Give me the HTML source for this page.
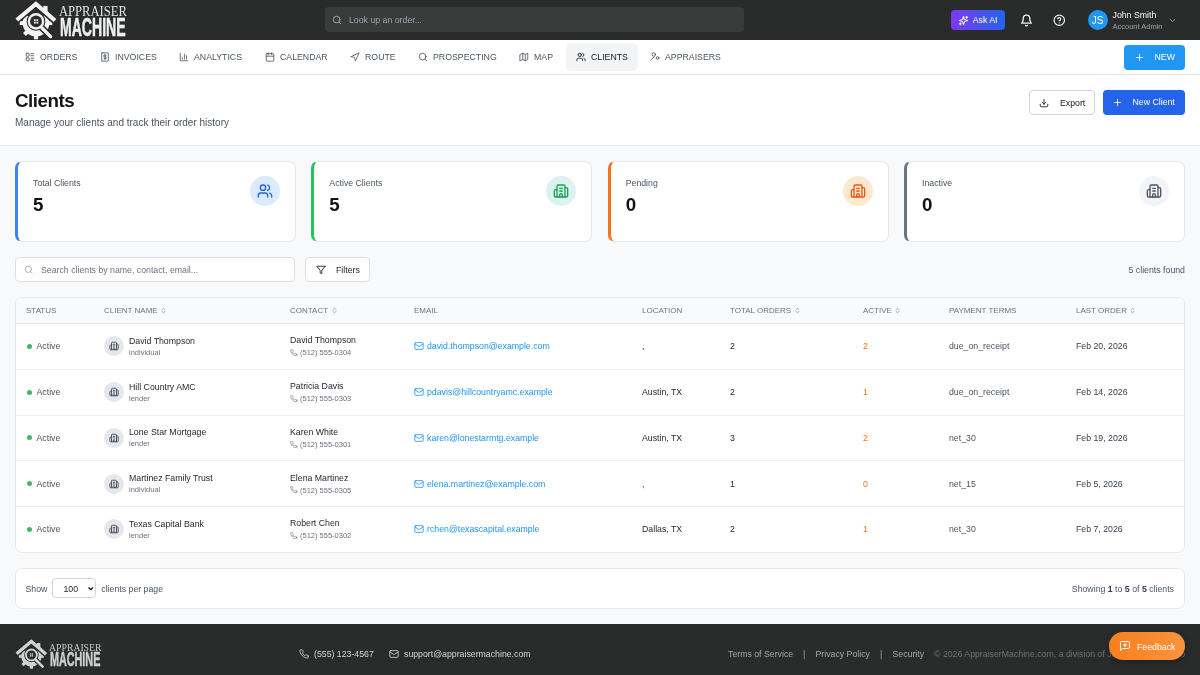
<!DOCTYPE html>
<html><head><meta charset="utf-8">
<style>
*{box-sizing:border-box;margin:0;padding:0}
html,body{width:1200px;height:675px;overflow:hidden;}body{will-change:transform;background:#f8f9fb;font-family:"Liberation Sans",sans-serif;color:#111827}
.abs{position:absolute}
svg.i{fill:none;stroke:currentColor;stroke-width:2;stroke-linecap:round;stroke-linejoin:round;display:block}
#top{position:absolute;left:0;top:0;width:1200px;height:40px;background:#2a2b2b}
#nav{position:absolute;left:0;top:40px;width:1200px;height:35px;background:#fff;border-bottom:1px solid #e5e7eb}
.nv{position:absolute;top:-0.5px;height:35px;display:flex;align-items:center;font-size:8.75px;color:#4b5563;white-space:nowrap}
.nv svg{width:10px;height:10px;margin-right:5px}
#hdr{position:absolute;left:0;top:75px;width:1200px;height:71px;background:#fff;border-bottom:1px solid #e5e7eb}
.card{position:absolute;top:160.5px;width:281px;height:81px;background:#fff;border:1px solid #e5e7eb;border-left-width:3px;border-radius:7px}
.card .bar{display:none}
.card .lbl{position:absolute;left:15px;top:16px;font-size:8.75px;color:#4b5563}
.card .val{position:absolute;left:15px;top:32.5px;font-size:18.75px;font-weight:bold;color:#111}
.card .ic{position:absolute;right:15px;top:14.75px;width:30px;height:30px;border-radius:50%;display:flex;align-items:center;justify-content:center}
.card .ic svg{width:16px;height:16px}
.th{position:absolute;top:0;height:24.5px;display:flex;align-items:center;font-size:8px;letter-spacing:0px;color:#6b7280;white-space:nowrap}
.th svg{width:7px;height:7px;margin-left:2.5px;stroke-width:2}
.row{position:absolute;left:0;width:1168px;height:45.6px;border-top:1px solid #eef0f3}
.c{position:absolute;top:0;height:100%;display:flex;align-items:center;font-size:8.75px;color:#1f2328;white-space:nowrap}
.dot{width:5px;height:5px;border-radius:50%;background:#43b862;margin-right:5px}
.av{width:20px;height:20px;border-radius:50%;background:#e5e7eb;display:flex;align-items:center;justify-content:center;margin-right:5px;color:#4b5563}
.av svg{stroke-width:2.3}
.av svg{width:10px;height:10px}
.sub{font-size:7.5px;color:#6b7280;margin-top:2px}
.ph{display:flex;align-items:center;font-size:7.5px;color:#6b7280;margin-top:3px}
.ph svg{width:7.5px;height:7.5px;margin-right:2.5px}
.em{color:#2196f3}
.em svg{width:10px;height:10px;margin-right:3px}
</style></head><body>
<div id="top">
  <!-- logo -->
  <div class="abs" style="left:16px;top:2px;width:110px;height:36px">
    <svg style="position:absolute;left:-2px;top:-2px" width="44" height="40" viewBox="0 0 44 40">
<g fill="#f2f2f3">
<circle cx="22" cy="23" r="13.3"/><rect x="19.9" y="6.699999999999999" width="4.2" height="6" transform="rotate(0 22 23)"/><rect x="19.9" y="6.699999999999999" width="4.2" height="6" transform="rotate(45 22 23)"/><rect x="19.9" y="6.699999999999999" width="4.2" height="6" transform="rotate(90 22 23)"/><rect x="19.9" y="6.699999999999999" width="4.2" height="6" transform="rotate(135 22 23)"/><rect x="19.9" y="6.699999999999999" width="4.2" height="6" transform="rotate(180 22 23)"/><rect x="19.9" y="6.699999999999999" width="4.2" height="6" transform="rotate(225 22 23)"/><rect x="19.9" y="6.699999999999999" width="4.2" height="6" transform="rotate(270 22 23)"/><rect x="19.9" y="6.699999999999999" width="4.2" height="6" transform="rotate(315 22 23)"/></g>
<polygon fill="#2a2b2b" points="22,5 9,16 35,16"/>
<line x1="27" y1="27" x2="36.8" y2="36.8" stroke="#2a2b2b" stroke-width="6.5" stroke-linecap="round"/>
<circle cx="22" cy="21.4" r="9.4" fill="#2a2b2b"/>
<circle cx="22" cy="21.4" r="8.3" fill="#f2f2f3"/>
<circle cx="22" cy="21.4" r="5.9" fill="#2a2b2b"/>
<g fill="#f2f2f3"><rect x="19.9" y="19.3" width="1.8" height="1.8"/><rect x="22.4" y="19.3" width="1.8" height="1.8"/><rect x="19.9" y="21.8" width="1.8" height="1.8"/><rect x="22.4" y="21.8" width="1.8" height="1.8"/></g>
<line x1="28" y1="28" x2="36.6" y2="36.6" stroke="#f2f2f3" stroke-width="3.4" stroke-linecap="round"/>
<polyline points="2.5,20 21.9,3.6 41.3,20.8" fill="none" stroke="#2a2b2b" stroke-width="7.5" stroke-linejoin="miter"/>
<rect x="28.6" y="5.6" width="5.4" height="7" fill="#2a2b2b"/>
<rect x="29.3" y="5.9" width="4.3" height="7" fill="#f2f2f3"/>
<polyline points="2.8,20 21.9,3.9 41,20.5" fill="none" stroke="#f2f2f3" stroke-width="4.2" stroke-linejoin="miter"/>
</svg>
    <div class="abs" style="left:43px;top:2.5px;line-height:14px;font-family:'Liberation Serif',serif;font-size:14px;color:#e4e5e8;transform:scaleX(0.9);transform-origin:left top">APPRAISER</div>
    <div class="abs" style="left:43.6px;top:12px;line-height:26.5px;font-size:26.5px;font-weight:bold;color:#eeeff1;-webkit-text-stroke:0.6px #eeeff1;transform:scaleX(0.53);transform-origin:left top">MACHINE</div>
  </div>
  <!-- search -->
  <div class="abs" style="left:325px;top:7.3px;width:419px;height:25.2px;background:#3a3b3b;border-radius:4px">
    <svg class="i abs" viewBox="0 0 24 24" style="left:7px;top:8px;width:10px;height:10px;color:#a8a8a8;stroke-width:2.3"><circle cx="11" cy="11" r="8"/><path d="m21 21-4.3-4.3"/></svg>
    <div class="abs" style="left:24px;top:7.6px;font-size:8.75px;color:#9ca3af">Look up an order...</div>
  </div>
  <!-- ask ai -->
  <div class="abs" style="left:951px;top:10px;width:54px;height:20px;border-radius:4px;background:linear-gradient(90deg,#7c3aed,#2563eb)">
    <svg class="i abs" viewBox="0 0 24 24" style="left:7px;top:4.5px;width:11px;height:11px;color:#fff;stroke-width:2.2"><g transform="translate(24 0) scale(-1 1)"><path d="m12 3-1.912 5.813a2 2 0 0 1-1.275 1.275L3 12l5.813 1.912a2 2 0 0 1 1.275 1.275L12 21l1.912-5.813a2 2 0 0 1 1.275-1.275L21 12l-5.813-1.912a2 2 0 0 1-1.275-1.275L12 3Z"/><path d="M5 3v4"/><path d="M19 17v4"/><path d="M3 5h4"/><path d="M17 19h4"/></g></svg>
    <div class="abs" style="left:21.7px;top:4.8px;font-size:8.75px;color:#fff">Ask AI</div>
  </div>
  <svg class="i abs" viewBox="0 0 24 24" style="left:1019.5px;top:13.5px;width:13px;height:13px;color:#f2f2f2;stroke-width:2.3"><path d="M6 8a6 6 0 0 1 12 0c0 7 3 9 3 9H3s3-2 3-9"/><path d="M10.3 21a1.94 1.94 0 0 0 3.4 0"/></svg>
  <svg class="i abs" viewBox="0 0 24 24" style="left:1052.5px;top:14px;width:12.5px;height:12.5px;color:#f2f2f2;stroke-width:2.3"><circle cx="12" cy="12" r="10"/><path d="M9.09 9a3 3 0 0 1 5.83 1c0 2-3 3-3 3"/><path d="M12 17h.01"/></svg>
  <div class="abs" style="left:1087.5px;top:10px;width:20px;height:20px;border-radius:50%;background:#2196f3;color:#fff;font-size:10px;display:flex;align-items:center;justify-content:center">JS</div>
  <div class="abs" style="left:1112.5px;top:10px;font-size:8.75px;color:#f3f4f6">John Smith</div>
  <div class="abs" style="left:1112.5px;top:21.5px;font-size:7.5px;color:#9ca3af">Account Admin</div>
  <svg class="i abs" viewBox="0 0 24 24" style="left:1167.5px;top:15.5px;width:9px;height:9px;color:#a1a1aa;stroke-width:2.4"><path d="m6 9 6 6 6-6"/></svg>
</div>

<div id="nav">
  <div class="abs" style="left:566px;top:3px;width:71.5px;height:28px;background:#f3f4f6;border-radius:5px"></div>
  <div class="nv" style="left:25px"><svg class="i" viewBox="0 0 24 24"><rect width="7" height="7" x="3" y="3" rx="1"/><rect width="7" height="7" x="3" y="14" rx="1"/><path d="M14 4h7"/><path d="M14 9h7"/><path d="M14 15h7"/><path d="M14 20h7"/></svg>ORDERS</div>
  <div class="nv" style="left:100px"><svg class="i" viewBox="0 0 24 24"><rect x="4" y="2" width="16" height="20" rx="1"/><path d="M15 8.5a3 2.5 0 0 0-3-1.5h-1a2.2 2.2 0 0 0 0 4.5h2a2.2 2.2 0 0 1 0 4.5h-1a3 2.5 0 0 1-3-1.5"/><path d="M12 5.5v13"/></svg>INVOICES</div>
  <div class="nv" style="left:179px"><svg class="i" viewBox="0 0 24 24"><path d="M3 3v18h18"/><path d="M18 17V9"/><path d="M13 17V5"/><path d="M8 17v-3"/></svg>ANALYTICS</div>
  <div class="nv" style="left:265px"><svg class="i" viewBox="0 0 24 24"><rect width="18" height="18" x="3" y="4" rx="2"/><path d="M16 2v4"/><path d="M8 2v4"/><path d="M3 10h18"/></svg>CALENDAR</div>
  <div class="nv" style="left:350px"><svg class="i" viewBox="0 0 24 24"><polygon points="3 11 22 2 13 21 11 13 3 11"/></svg>ROUTE</div>
  <div class="nv" style="left:418px"><svg class="i" viewBox="0 0 24 24"><circle cx="11" cy="11" r="8"/><path d="m21 21-4.3-4.3"/></svg>PROSPECTING</div>
  <div class="nv" style="left:519px"><svg class="i" viewBox="0 0 24 24"><polygon points="3 6 9 3 15 6 21 3 21 18 15 21 9 18 3 21"/><path d="M9 3v15"/><path d="M15 6v15"/></svg>MAP</div>
  <div class="nv" style="left:576px;color:#111827"><svg class="i" viewBox="0 0 24 24"><path d="M16 21v-2a4 4 0 0 0-4-4H6a4 4 0 0 0-4 4v2"/><circle cx="9" cy="7" r="4"/><path d="M22 21v-2a4 4 0 0 0-3-3.87"/><path d="M16 3.13a4 4 0 0 1 0 7.75"/></svg>CLIENTS</div>
  <div class="nv" style="left:650px"><svg class="i" viewBox="0 0 24 24"><circle cx="9" cy="6" r="4.2"/><path d="M2.5 19.5c1.5-3 3.5-5.5 7-7"/><circle cx="18" cy="14.5" r="3.2"/></svg>APPRAISERS</div>
  <div class="abs" style="left:1124px;top:5px;width:61px;height:25px;background:#2196f3;border-radius:4px;color:#fff;font-size:8.75px">
    <svg class="i abs" viewBox="0 0 24 24" style="left:10px;top:6.5px;width:11px;height:11px;stroke-width:1.8"><path d="M5 12h14"/><path d="M12 5v14"/></svg>
    <div class="abs" style="left:30.5px;top:7.4px">NEW</div>
  </div>
</div>

<div id="hdr">
  <div class="abs" style="left:15px;top:15px;font-size:18.75px;font-weight:bold;letter-spacing:-0.47px;color:#141414">Clients</div>
  <div class="abs" style="left:15px;top:42.2px;font-size:10px;color:#4b5563">Manage your clients and track their order history</div>
  <div class="abs" style="left:1029px;top:15px;width:66px;height:24.5px;background:#fff;border:1px solid #d1d5db;border-radius:4px">
    <svg class="i abs" viewBox="0 0 24 24" style="left:9px;top:6.5px;width:10px;height:10px;color:#111827"><path d="M21 15v4a2 2 0 0 1-2 2H5a2 2 0 0 1-2-2v-4"/><polyline points="7 10 12 15 17 10"/><path d="M12 15V3"/></svg>
    <div class="abs" style="left:30px;top:6.5px;font-size:8.75px;color:#111827">Export</div>
  </div>
  <div class="abs" style="left:1102.5px;top:15px;width:82.5px;height:24.5px;background:#2563eb;border-radius:4px">
    <svg class="i abs" viewBox="0 0 24 24" style="left:9.5px;top:7px;width:11px;height:11px;color:#fff;stroke-width:1.8"><path d="M5 12h14"/><path d="M12 5v14"/></svg>
    <div class="abs" style="left:30px;top:7px;font-size:8.75px;color:#fff">New Client</div>
  </div>
</div>

<!-- stat cards -->
<div class="card" style="left:15px;border-left-color:#3b82f6"><div class="bar"></div><div class="lbl">Total Clients</div><div class="val">5</div>
  <div class="ic" style="background:#dbeafe;color:#2563eb"><svg class="i" viewBox="0 0 24 24"><path d="M16 21v-2a4 4 0 0 0-4-4H6a4 4 0 0 0-4 4v2"/><circle cx="9" cy="7" r="4"/><path d="M22 21v-2a4 4 0 0 0-3-3.87"/><path d="M16 3.13a4 4 0 0 1 0 7.75"/></svg></div></div>
<div class="card" style="left:311.3px;border-left-color:#22c55e"><div class="bar"></div><div class="lbl">Active Clients</div><div class="val">5</div>
  <div class="ic" style="background:#dcf1f1;color:#16a34a"><svg class="i" viewBox="0 0 24 24"><path d="M10 12h4"/><path d="M10 8h4"/><path d="M14 21v-3a2 2 0 0 0-4 0v3"/><path d="M6 10H4a2 2 0 0 0-2 2v7a2 2 0 0 0 2 2h16a2 2 0 0 0 2-2V9a2 2 0 0 0-2-2h-2"/><path d="M6 21V5a2 2 0 0 1 2-2h8a2 2 0 0 1 2 2v16"/></svg></div></div>
<div class="card" style="left:607.7px;border-left-color:#f97316"><div class="bar"></div><div class="lbl">Pending</div><div class="val">0</div>
  <div class="ic" style="background:#fde8d0;color:#ea580c"><svg class="i" viewBox="0 0 24 24"><path d="M10 12h4"/><path d="M10 8h4"/><path d="M14 21v-3a2 2 0 0 0-4 0v3"/><path d="M6 10H4a2 2 0 0 0-2 2v7a2 2 0 0 0 2 2h16a2 2 0 0 0 2-2V9a2 2 0 0 0-2-2h-2"/><path d="M6 21V5a2 2 0 0 1 2-2h8a2 2 0 0 1 2 2v16"/></svg></div></div>
<div class="card" style="left:904px;border-left-color:#6b7280"><div class="bar"></div><div class="lbl">Inactive</div><div class="val">0</div>
  <div class="ic" style="background:#f3f4f6;color:#4b5563"><svg class="i" viewBox="0 0 24 24"><path d="M10 12h4"/><path d="M10 8h4"/><path d="M14 21v-3a2 2 0 0 0-4 0v3"/><path d="M6 10H4a2 2 0 0 0-2 2v7a2 2 0 0 0 2 2h16a2 2 0 0 0 2-2V9a2 2 0 0 0-2-2h-2"/><path d="M6 21V5a2 2 0 0 1 2-2h8a2 2 0 0 1 2 2v16"/></svg></div></div>

<!-- search/filter -->
<div class="abs" style="left:15px;top:256.5px;width:280px;height:25px;background:#fff;border:1px solid #dcdfe4;border-radius:4px">
  <svg class="i abs" viewBox="0 0 24 24" style="left:7.5px;top:7px;width:9.5px;height:9.5px;color:#9ca3af"><circle cx="11" cy="11" r="8"/><path d="m21 21-4.3-4.3"/></svg>
  <div class="abs" style="left:25px;top:7.5px;font-size:8.75px;color:#6b7280">Search clients by name, contact, email...</div>
</div>
<div class="abs" style="left:305px;top:256.5px;width:65px;height:25px;background:#fff;border:1px solid #dcdfe4;border-radius:4px">
  <svg class="i abs" viewBox="0 0 24 24" style="left:10px;top:7.5px;width:10px;height:10px;color:#111827"><polygon points="22 3 2 3 10 12.46 10 19 14 21 14 12.46 22 3"/></svg>
  <div class="abs" style="left:30px;top:7.2px;font-size:8.75px;color:#1f2328">Filters</div>
</div>
<div class="abs" style="right:15px;top:264.8px;font-size:8.75px;color:#4b5563">5 clients found</div>

<!-- table -->
<div class="abs" style="left:15px;top:297px;width:1170px;height:256px;background:#fff;border:1px solid #e5e7eb;border-radius:7px;overflow:hidden">
  <div class="abs" style="left:0;top:0;width:1170px;height:25.5px;background:#f9fafb;border-bottom:1px solid #e5e7eb"></div>
  <div class="th" style="left:10px">STATUS</div>
  <div class="th" style="left:88px">CLIENT NAME<svg class="i" viewBox="0 0 24 24"><path d="m7 15 5 5 5-5"/><path d="m7 9 5-5 5 5"/></svg></div>
  <div class="th" style="left:274px">CONTACT<svg class="i" viewBox="0 0 24 24"><path d="m7 15 5 5 5-5"/><path d="m7 9 5-5 5 5"/></svg></div>
  <div class="th" style="left:398px">EMAIL</div>
  <div class="th" style="left:626px">LOCATION</div>
  <div class="th" style="left:714px">TOTAL ORDERS<svg class="i" viewBox="0 0 24 24"><path d="m7 15 5 5 5-5"/><path d="m7 9 5-5 5 5"/></svg></div>
  <div class="th" style="left:847px">ACTIVE<svg class="i" viewBox="0 0 24 24"><path d="m7 15 5 5 5-5"/><path d="m7 9 5-5 5 5"/></svg></div>
  <div class="th" style="left:933px">PAYMENT TERMS</div>
  <div class="th" style="left:1060px">LAST ORDER<svg class="i" viewBox="0 0 24 24"><path d="m7 15 5 5 5-5"/><path d="m7 9 5-5 5 5"/></svg></div>
  <div id="rows">
  <div class="row" style="top:25.5px;border-top:none">
    <div class="c" style="left:10.5px;color:#4b5563"><span class="dot"></span>Active</div>
    <div class="c" style="left:88px"><span class="av"><svg class="i" viewBox="0 0 24 24"><path d="M10 12h4"/><path d="M10 8h4"/><path d="M14 21v-3a2 2 0 0 0-4 0v3"/><path d="M6 10H4a2 2 0 0 0-2 2v7a2 2 0 0 0 2 2h16a2 2 0 0 0 2-2V9a2 2 0 0 0-2-2h-2"/><path d="M6 21V5a2 2 0 0 1 2-2h8a2 2 0 0 1 2 2v16"/></svg></span><div><div>David Thompson</div><div class="sub">individual</div></div></div>
    <div class="c" style="left:274px"><div><div>David Thompson</div><div class="ph"><svg class="i" viewBox="0 0 24 24"><path d="M22 16.92v3a2 2 0 0 1-2.18 2 19.79 19.79 0 0 1-8.63-3.07 19.5 19.5 0 0 1-6-6 19.79 19.79 0 0 1-3.07-8.67A2 2 0 0 1 4.11 2h3a2 2 0 0 1 2 1.72 12.84 12.84 0 0 0 .7 2.81 2 2 0 0 1-.45 2.11L8.09 9.91a16 16 0 0 0 6 6l1.27-1.27a2 2 0 0 1 2.11-.45 12.84 12.84 0 0 0 2.81.7A2 2 0 0 1 22 16.92z"/></svg>(512) 555-0304</div></div></div>
    <div class="c em" style="left:398px"><svg class="i" viewBox="0 0 24 24"><rect width="20" height="16" x="2" y="4" rx="2"/><path d="m22 7-8.97 5.7a1.94 1.94 0 0 1-2.06 0L2 7"/></svg>david.thompson@example.com</div>
    <div class="c" style="left:626px">,</div>
    <div class="c" style="left:714px">2</div>
    <div class="c" style="left:847px;color:#f97316">2</div>
    <div class="c" style="left:933px;color:#4b5563">due_on_receipt</div>
    <div class="c" style="left:1060px;color:#374151">Feb 20, 2026</div>
  </div>
  <div class="row" style="top:71.1px">
    <div class="c" style="left:10.5px;color:#4b5563"><span class="dot"></span>Active</div>
    <div class="c" style="left:88px"><span class="av"><svg class="i" viewBox="0 0 24 24"><path d="M10 12h4"/><path d="M10 8h4"/><path d="M14 21v-3a2 2 0 0 0-4 0v3"/><path d="M6 10H4a2 2 0 0 0-2 2v7a2 2 0 0 0 2 2h16a2 2 0 0 0 2-2V9a2 2 0 0 0-2-2h-2"/><path d="M6 21V5a2 2 0 0 1 2-2h8a2 2 0 0 1 2 2v16"/></svg></span><div><div>Hill Country AMC</div><div class="sub">lender</div></div></div>
    <div class="c" style="left:274px"><div><div>Patricia Davis</div><div class="ph"><svg class="i" viewBox="0 0 24 24"><path d="M22 16.92v3a2 2 0 0 1-2.18 2 19.79 19.79 0 0 1-8.63-3.07 19.5 19.5 0 0 1-6-6 19.79 19.79 0 0 1-3.07-8.67A2 2 0 0 1 4.11 2h3a2 2 0 0 1 2 1.72 12.84 12.84 0 0 0 .7 2.81 2 2 0 0 1-.45 2.11L8.09 9.91a16 16 0 0 0 6 6l1.27-1.27a2 2 0 0 1 2.11-.45 12.84 12.84 0 0 0 2.81.7A2 2 0 0 1 22 16.92z"/></svg>(512) 555-0303</div></div></div>
    <div class="c em" style="left:398px"><svg class="i" viewBox="0 0 24 24"><rect width="20" height="16" x="2" y="4" rx="2"/><path d="m22 7-8.97 5.7a1.94 1.94 0 0 1-2.06 0L2 7"/></svg>pdavis@hillcountryamc.example</div>
    <div class="c" style="left:626px">Austin, TX</div>
    <div class="c" style="left:714px">2</div>
    <div class="c" style="left:847px;color:#f97316">1</div>
    <div class="c" style="left:933px;color:#4b5563">due_on_receipt</div>
    <div class="c" style="left:1060px;color:#374151">Feb 14, 2026</div>
  </div>
  <div class="row" style="top:116.7px">
    <div class="c" style="left:10.5px;color:#4b5563"><span class="dot"></span>Active</div>
    <div class="c" style="left:88px"><span class="av"><svg class="i" viewBox="0 0 24 24"><path d="M10 12h4"/><path d="M10 8h4"/><path d="M14 21v-3a2 2 0 0 0-4 0v3"/><path d="M6 10H4a2 2 0 0 0-2 2v7a2 2 0 0 0 2 2h16a2 2 0 0 0 2-2V9a2 2 0 0 0-2-2h-2"/><path d="M6 21V5a2 2 0 0 1 2-2h8a2 2 0 0 1 2 2v16"/></svg></span><div><div>Lone Star Mortgage</div><div class="sub">lender</div></div></div>
    <div class="c" style="left:274px"><div><div>Karen White</div><div class="ph"><svg class="i" viewBox="0 0 24 24"><path d="M22 16.92v3a2 2 0 0 1-2.18 2 19.79 19.79 0 0 1-8.63-3.07 19.5 19.5 0 0 1-6-6 19.79 19.79 0 0 1-3.07-8.67A2 2 0 0 1 4.11 2h3a2 2 0 0 1 2 1.72 12.84 12.84 0 0 0 .7 2.81 2 2 0 0 1-.45 2.11L8.09 9.91a16 16 0 0 0 6 6l1.27-1.27a2 2 0 0 1 2.11-.45 12.84 12.84 0 0 0 2.81.7A2 2 0 0 1 22 16.92z"/></svg>(512) 555-0301</div></div></div>
    <div class="c em" style="left:398px"><svg class="i" viewBox="0 0 24 24"><rect width="20" height="16" x="2" y="4" rx="2"/><path d="m22 7-8.97 5.7a1.94 1.94 0 0 1-2.06 0L2 7"/></svg>karen@lonestarmtg.example</div>
    <div class="c" style="left:626px">Austin, TX</div>
    <div class="c" style="left:714px">3</div>
    <div class="c" style="left:847px;color:#f97316">2</div>
    <div class="c" style="left:933px;color:#4b5563">net_30</div>
    <div class="c" style="left:1060px;color:#374151">Feb 19, 2026</div>
  </div>
  <div class="row" style="top:162.3px">
    <div class="c" style="left:10.5px;color:#4b5563"><span class="dot"></span>Active</div>
    <div class="c" style="left:88px"><span class="av"><svg class="i" viewBox="0 0 24 24"><path d="M10 12h4"/><path d="M10 8h4"/><path d="M14 21v-3a2 2 0 0 0-4 0v3"/><path d="M6 10H4a2 2 0 0 0-2 2v7a2 2 0 0 0 2 2h16a2 2 0 0 0 2-2V9a2 2 0 0 0-2-2h-2"/><path d="M6 21V5a2 2 0 0 1 2-2h8a2 2 0 0 1 2 2v16"/></svg></span><div><div>Martinez Family Trust</div><div class="sub">individual</div></div></div>
    <div class="c" style="left:274px"><div><div>Elena Martinez</div><div class="ph"><svg class="i" viewBox="0 0 24 24"><path d="M22 16.92v3a2 2 0 0 1-2.18 2 19.79 19.79 0 0 1-8.63-3.07 19.5 19.5 0 0 1-6-6 19.79 19.79 0 0 1-3.07-8.67A2 2 0 0 1 4.11 2h3a2 2 0 0 1 2 1.72 12.84 12.84 0 0 0 .7 2.81 2 2 0 0 1-.45 2.11L8.09 9.91a16 16 0 0 0 6 6l1.27-1.27a2 2 0 0 1 2.11-.45 12.84 12.84 0 0 0 2.81.7A2 2 0 0 1 22 16.92z"/></svg>(512) 555-0305</div></div></div>
    <div class="c em" style="left:398px"><svg class="i" viewBox="0 0 24 24"><rect width="20" height="16" x="2" y="4" rx="2"/><path d="m22 7-8.97 5.7a1.94 1.94 0 0 1-2.06 0L2 7"/></svg>elena.martinez@example.com</div>
    <div class="c" style="left:626px">,</div>
    <div class="c" style="left:714px">1</div>
    <div class="c" style="left:847px;color:#f97316">0</div>
    <div class="c" style="left:933px;color:#4b5563">net_15</div>
    <div class="c" style="left:1060px;color:#374151">Feb 5, 2026</div>
  </div>
  <div class="row" style="top:207.9px">
    <div class="c" style="left:10.5px;color:#4b5563"><span class="dot"></span>Active</div>
    <div class="c" style="left:88px"><span class="av"><svg class="i" viewBox="0 0 24 24"><path d="M10 12h4"/><path d="M10 8h4"/><path d="M14 21v-3a2 2 0 0 0-4 0v3"/><path d="M6 10H4a2 2 0 0 0-2 2v7a2 2 0 0 0 2 2h16a2 2 0 0 0 2-2V9a2 2 0 0 0-2-2h-2"/><path d="M6 21V5a2 2 0 0 1 2-2h8a2 2 0 0 1 2 2v16"/></svg></span><div><div>Texas Capital Bank</div><div class="sub">lender</div></div></div>
    <div class="c" style="left:274px"><div><div>Robert Chen</div><div class="ph"><svg class="i" viewBox="0 0 24 24"><path d="M22 16.92v3a2 2 0 0 1-2.18 2 19.79 19.79 0 0 1-8.63-3.07 19.5 19.5 0 0 1-6-6 19.79 19.79 0 0 1-3.07-8.67A2 2 0 0 1 4.11 2h3a2 2 0 0 1 2 1.72 12.84 12.84 0 0 0 .7 2.81 2 2 0 0 1-.45 2.11L8.09 9.91a16 16 0 0 0 6 6l1.27-1.27a2 2 0 0 1 2.11-.45 12.84 12.84 0 0 0 2.81.7A2 2 0 0 1 22 16.92z"/></svg>(512) 555-0302</div></div></div>
    <div class="c em" style="left:398px"><svg class="i" viewBox="0 0 24 24"><rect width="20" height="16" x="2" y="4" rx="2"/><path d="m22 7-8.97 5.7a1.94 1.94 0 0 1-2.06 0L2 7"/></svg>rchen@texascapital.example</div>
    <div class="c" style="left:626px">Dallas, TX</div>
    <div class="c" style="left:714px">2</div>
    <div class="c" style="left:847px;color:#f97316">1</div>
    <div class="c" style="left:933px;color:#4b5563">net_30</div>
    <div class="c" style="left:1060px;color:#374151">Feb 7, 2026</div>
  </div>
</div><!--/rows--><!--/rows--><!--/rows--><!--/rows-->
</div>

<!-- pagination -->
<div class="abs" style="left:15px;top:568px;width:1170px;height:40.5px;background:#fff;border:1px solid #e5e7eb;border-radius:7px">
  <div class="abs" style="left:9.5px;top:14.5px;font-size:8.75px;color:#4b5563">Show</div>
  <div class="abs" style="left:36px;top:9.3px;width:43.5px;height:19.5px;border:1px solid #d1d5db;border-radius:4px;font-size:8.75px;color:#1f2328">
    <div class="abs" style="left:10.5px;top:4.5px">100</div>
    <svg class="i abs" viewBox="0 0 24 24" style="left:33.5px;top:5.5px;width:7.5px;height:7.5px;stroke-width:4;color:#111"><path d="m6 9 6 6 6-6"/></svg>
  </div>
  <div class="abs" style="left:85.3px;top:14.5px;font-size:8.75px;color:#4b5563">clients per page</div>
  <div class="abs" style="right:10px;top:14.5px;font-size:8.75px;color:#4b5563">Showing <b style="color:#374151">1</b> to <b style="color:#374151">5</b> of <b style="color:#374151">5</b> clients</div>
</div>

<!-- footer -->
<div class="abs" style="left:0;top:624px;width:1200px;height:51px;background:#2a2b2b">
  <div class="abs" style="left:15.7px;top:16px;width:110px;height:36px;transform:scale(0.77);transform-origin:left top;opacity:0.84">
    <svg style="position:absolute;left:-2px;top:-2px" width="44" height="40" viewBox="0 0 44 40">
<g fill="#f2f2f3">
<circle cx="22" cy="23" r="13.3"/><rect x="19.9" y="6.699999999999999" width="4.2" height="6" transform="rotate(0 22 23)"/><rect x="19.9" y="6.699999999999999" width="4.2" height="6" transform="rotate(45 22 23)"/><rect x="19.9" y="6.699999999999999" width="4.2" height="6" transform="rotate(90 22 23)"/><rect x="19.9" y="6.699999999999999" width="4.2" height="6" transform="rotate(135 22 23)"/><rect x="19.9" y="6.699999999999999" width="4.2" height="6" transform="rotate(180 22 23)"/><rect x="19.9" y="6.699999999999999" width="4.2" height="6" transform="rotate(225 22 23)"/><rect x="19.9" y="6.699999999999999" width="4.2" height="6" transform="rotate(270 22 23)"/><rect x="19.9" y="6.699999999999999" width="4.2" height="6" transform="rotate(315 22 23)"/></g>
<polygon fill="#2a2b2b" points="22,5 9,16 35,16"/>
<line x1="27" y1="27" x2="36.8" y2="36.8" stroke="#2a2b2b" stroke-width="6.5" stroke-linecap="round"/>
<circle cx="22" cy="21.4" r="9.4" fill="#2a2b2b"/>
<circle cx="22" cy="21.4" r="8.3" fill="#f2f2f3"/>
<circle cx="22" cy="21.4" r="5.9" fill="#2a2b2b"/>
<g fill="#f2f2f3"><rect x="19.9" y="19.3" width="1.8" height="1.8"/><rect x="22.4" y="19.3" width="1.8" height="1.8"/><rect x="19.9" y="21.8" width="1.8" height="1.8"/><rect x="22.4" y="21.8" width="1.8" height="1.8"/></g>
<line x1="28" y1="28" x2="36.6" y2="36.6" stroke="#f2f2f3" stroke-width="3.4" stroke-linecap="round"/>
<polyline points="2.5,20 21.9,3.6 41.3,20.8" fill="none" stroke="#2a2b2b" stroke-width="7.5" stroke-linejoin="miter"/>
<rect x="28.6" y="5.6" width="5.4" height="7" fill="#2a2b2b"/>
<rect x="29.3" y="5.9" width="4.3" height="7" fill="#f2f2f3"/>
<polyline points="2.8,20 21.9,3.9 41,20.5" fill="none" stroke="#f2f2f3" stroke-width="4.2" stroke-linejoin="miter"/>
</svg>
    <div class="abs" style="left:43px;top:2.5px;line-height:14px;font-family:'Liberation Serif',serif;font-size:14px;color:#e4e5e8;transform:scaleX(0.9);transform-origin:left top">APPRAISER</div>
    <div class="abs" style="left:43.6px;top:12px;line-height:26.5px;font-size:26.5px;font-weight:bold;color:#eeeff1;-webkit-text-stroke:0.6px #eeeff1;transform:scaleX(0.53);transform-origin:left top">MACHINE</div>
  </div>
  <div class="abs" style="left:299px;top:24.5px;font-size:8.75px;color:#d1d5db">
    <svg class="i abs" viewBox="0 0 24 24" style="left:0;top:0;width:10px;height:10px"><path d="M22 16.92v3a2 2 0 0 1-2.18 2 19.79 19.79 0 0 1-8.63-3.07 19.5 19.5 0 0 1-6-6 19.79 19.79 0 0 1-3.07-8.67A2 2 0 0 1 4.11 2h3a2 2 0 0 1 2 1.72 12.84 12.84 0 0 0 .7 2.81 2 2 0 0 1-.45 2.11L8.09 9.91a16 16 0 0 0 6 6l1.27-1.27a2 2 0 0 1 2.11-.45 12.84 12.84 0 0 0 2.81.7A2 2 0 0 1 22 16.92z"/></svg>
    <div class="abs" style="left:15px;top:0;white-space:nowrap">(555) 123-4567</div>
  </div>
  <div class="abs" style="left:389px;top:24.5px;font-size:8.75px;color:#d1d5db">
    <svg class="i abs" viewBox="0 0 24 24" style="left:0;top:0;width:10px;height:10px"><rect width="20" height="16" x="2" y="4" rx="2"/><path d="m22 7-8.97 5.7a1.94 1.94 0 0 1-2.06 0L2 7"/></svg>
    <div class="abs" style="left:15px;top:0;white-space:nowrap">support@appraisermachine.com</div>
  </div>
  <div class="abs" style="left:728px;top:24.5px;font-size:8.75px;color:#a3a7ad;white-space:nowrap">Terms of Service</div>
  <div class="abs" style="left:803px;top:24.5px;font-size:8.75px;color:#a3a7ad">|</div>
  <div class="abs" style="left:815.5px;top:24.5px;font-size:8.75px;color:#a3a7ad;white-space:nowrap">Privacy Policy</div>
  <div class="abs" style="left:880px;top:24.5px;font-size:8.75px;color:#a3a7ad">|</div>
  <div class="abs" style="left:892.5px;top:24.5px;font-size:8.75px;color:#a3a7ad;white-space:nowrap">Security</div>
  <div class="abs" style="left:934px;top:24.5px;width:251px;overflow:hidden;font-size:8.75px;color:#6f737a;white-space:nowrap">© 2026 AppraiserMachine.com, a division of JetStream Innovatio&nbsp;n</div>
</div>
<div class="abs" style="left:1109px;top:632px;width:76px;height:28px;border-radius:14px;background:linear-gradient(90deg,#f7801f,#fb923c);color:#fff;font-size:8.75px;box-shadow:0 2px 6px rgba(0,0,0,.3)">
  <svg class="i abs" viewBox="0 0 24 24" style="left:10px;top:7.5px;width:12px;height:12px"><path d="M21 15a2 2 0 0 1-2 2H7l-4 4V5a2 2 0 0 1 2-2h14a2 2 0 0 1 2 2z"/><path d="M12 7v6"/><path d="M9 10h6"/></svg>
  <div class="abs" style="left:28px;top:9.5px">Feedback</div>
</div>
</body></html>
